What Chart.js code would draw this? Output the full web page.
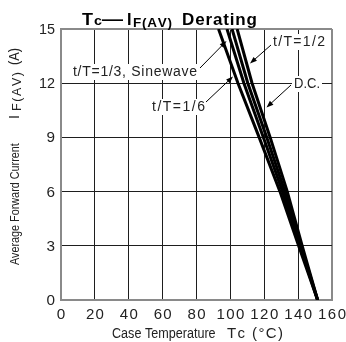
<!DOCTYPE html>
<html><head><meta charset="utf-8">
<script src="https://cdn.jsdelivr.net/npm/chart.js@4/dist/chart.umd.min.js"></script>
<style>html,body{margin:0;padding:0;background:#fff;}canvas{display:block;}</style>
</head><body>
<canvas id="c" width="346" height="342"></canvas>
<script>
// ---- data ----
const xTicks = [0, 20, 40, 60, 80, 100, 120, 140, 160];
const yTicks = [0, 3, 6, 9, 12, 15];
const currentA = [15, 12, 9, 6, 3, 0];
const tcDuty16 = [93, 104.5, 117, 129.3, 140.3, 151.5];
const tcDuty13Sine = [98, 108, 119.5, 130.8, 141, 151.5];
const tcDuty12 = [101, 110.3, 121.5, 132.2, 141.7, 151.5];
const tcDC = [104, 112.8, 123.5, 133.6, 142.4, 151.5];
const seriesNames = ['t/T=1/6', 't/T=1/3, Sinewave', 't/T=1/2', 'D.C.'];

const FONT = '"Liberation Sans", Arial, sans-serif';
const GRID = '#1e1e1e', BORDER = '#8a8a8a', TXT = '#222';

function pts(tc) { return tc.map((t, i) => ({ x: t, y: currentA[i] })); }

// draw text so that it spans targetW: positive extra -> letter spacing, negative -> horizontal condense
function drawFit(ctx, text, x, y, targetW, font, align) {
  ctx.font = font;
  const chars = [...text];
  const ws = chars.map(c => ctx.measureText(c).width);
  const natural = ws.reduce((a, b) => a + b, 0);
  let sx = x;
  if (align === 'center') sx = x - targetW / 2;
  else if (align === 'right') sx = x - targetW;
  ctx.textAlign = 'left';
  if (chars.length === 1 || targetW < natural) {
    ctx.save(); ctx.translate(sx, y); ctx.scale(targetW / natural, 1); ctx.fillText(text, 0, 0); ctx.restore();
    return;
  }
  const sp = (targetW - natural) / (chars.length - 1);
  let cx = sx;
  chars.forEach((c, i) => { ctx.fillText(c, cx, y); cx += ws[i] + sp; });
}

function arrow(ctx, x1, y1, x2, y2) {
  const a = Math.atan2(y2 - y1, x2 - x1), L = 7, W = 2.6;
  ctx.beginPath(); ctx.moveTo(x1, y1); ctx.lineTo(x2 - Math.cos(a) * L * 0.8, y2 - Math.sin(a) * L * 0.8);
  ctx.strokeStyle = '#000'; ctx.lineWidth = 1; ctx.stroke();
  ctx.beginPath();
  ctx.moveTo(x2, y2);
  ctx.lineTo(x2 - Math.cos(a) * L + Math.sin(a) * W, y2 - Math.sin(a) * L - Math.cos(a) * W);
  ctx.lineTo(x2 - Math.cos(a) * L - Math.sin(a) * W, y2 - Math.sin(a) * L + Math.cos(a) * W);
  ctx.closePath(); ctx.fillStyle = '#000'; ctx.fill();
}

function label(ctx, text, left, base, w, font) {
  ctx.fillStyle = '#fff';
  ctx.fillRect(left - 2, base - 12, w + 4, 16);
  ctx.fillStyle = TXT;
  drawFit(ctx, text, left, base, w, font, 'left');
}

const textPlugin = {
  id: 'texts',
  afterDraw(chart) {
    const ctx = chart.ctx;
    const xs = chart.scales.x, ys = chart.scales.y;
    ctx.save();
    ctx.textBaseline = 'alphabetic';
    ctx.fillStyle = TXT;
    // tick labels
    const tf = '15px ' + FONT;
    xTicks.forEach(v => {
      const t = String(v);
      drawFit(ctx, t, xs.getPixelForValue(v), 318.5, t.length === 1 ? 8.5 : t.length === 2 ? 18 : 28, tf, 'center');
    });
    yTicks.forEach(v => {
      const t = String(v);
      drawFit(ctx, t, 55, ys.getPixelForValue(v) + 5, t.length === 1 ? 8.5 : 16, tf, 'right');
    });
    // annotations
    const f14 = '14px ' + FONT;
    label(ctx, seriesNames[1], 73, 76, 124, f14);
    label(ctx, seriesNames[0], 152, 111, 53, f14);
    label(ctx, seriesNames[2], 273, 46, 52, f14);
    label(ctx, seriesNames[3], 294, 88, 26, f14);
    arrow(ctx, 200, 68, 226.5, 41);
    arrow(ctx, 206, 102, 233, 76.5);
    arrow(ctx, 271, 45, 250, 63.5);
    arrow(ctx, 291, 85, 266.5, 107.5);
    // title
    ctx.fillStyle = '#000';
    drawFit(ctx, 'T', 82, 24.5, 11, 'bold 17px ' + FONT, 'left');
    drawFit(ctx, 'c', 94, 24.5, 8, 'bold 13px ' + FONT, 'left');
    drawFit(ctx, '\u2014', 102, 24.5, 21, 'bold 17px ' + FONT, 'left');
    drawFit(ctx, 'I', 127, 24.5, 4.5, 'bold 17px ' + FONT, 'left');
    drawFit(ctx, 'F(AV)', 133, 26.5, 39, 'bold 13.5px ' + FONT, 'left');
    drawFit(ctx, 'Derating', 182, 24.5, 75, 'bold 17px ' + FONT, 'left');
    // x axis title
    ctx.fillStyle = TXT;
    drawFit(ctx, 'Case Temperature', 112, 337.5, 105, '14px ' + FONT, 'left');
    drawFit(ctx, 'Tc (\u00B0C)', 227, 337.5, 56, '15px ' + FONT, 'left');
    // y axis title (rotated)
    ctx.save();
    ctx.translate(19, 0);
    ctx.rotate(-Math.PI / 2);
    drawFit(ctx, 'Average Forward Current', -265, 0, 122, '13px ' + FONT, 'left');
    drawFit(ctx, 'I', -119, 0, 4, '14px ' + FONT, 'left');
    drawFit(ctx, 'F(AV)', -111, 1.5, 39, '12.5px ' + FONT, 'left');
    drawFit(ctx, '(A)', -65, 0, 17, '14px ' + FONT, 'left');
    ctx.restore();
    ctx.restore();
  }
};

function gridColor(ctx, minV, maxV) {
  const v = ctx.tick && ctx.tick.value;
  return (v === minV || v === maxV) ? BORDER : GRID;
}
function gridWidth(ctx, minV, maxV) {
  const v = ctx.tick && ctx.tick.value;
  return (v === minV || v === maxV) ? 2 : 1;
}

const mk = (data) => ({
  data: pts(data), borderColor: '#000', borderWidth: 3, pointRadius: 0,
  fill: false, tension: 0
});

new Chart(document.getElementById('c'), {
  type: 'line',
  data: {
    datasets: [mk(tcDuty16), mk(tcDuty13Sine), mk(tcDuty12), mk(tcDC)].map((d, i) => Object.assign(d, { label: seriesNames[i] }))
  },
  options: {
    responsive: false, animation: false, devicePixelRatio: 1,
    layout: { padding: { top: 29, right: 14, left: 0, bottom: 0 } },
    plugins: { legend: { display: false }, tooltip: { enabled: false }, title: { display: false } },
    scales: {
      x: {
        type: 'linear', min: 0, max: 160,
        afterBuildTicks: s => { s.ticks = xTicks.map(v => ({ value: v })); },
        afterFit: s => { s.height = 42; },
        ticks: { display: false },
        grid: { color: c => gridColor(c, 0, 160), lineWidth: c => gridWidth(c, 0, 160), drawTicks: false },
        border: { color: BORDER, width: 2 }
      },
      y: {
        type: 'linear', min: 0, max: 15,
        afterBuildTicks: s => { s.ticks = yTicks.map(v => ({ value: v })); },
        afterFit: s => { s.width = 61; },
        ticks: { display: false },
        grid: { color: c => gridColor(c, 0, 15), lineWidth: c => gridWidth(c, 0, 15), drawTicks: false },
        border: { color: BORDER, width: 2 }
      }
    }
  },
  plugins: [textPlugin]
});
</script>
</body></html>
